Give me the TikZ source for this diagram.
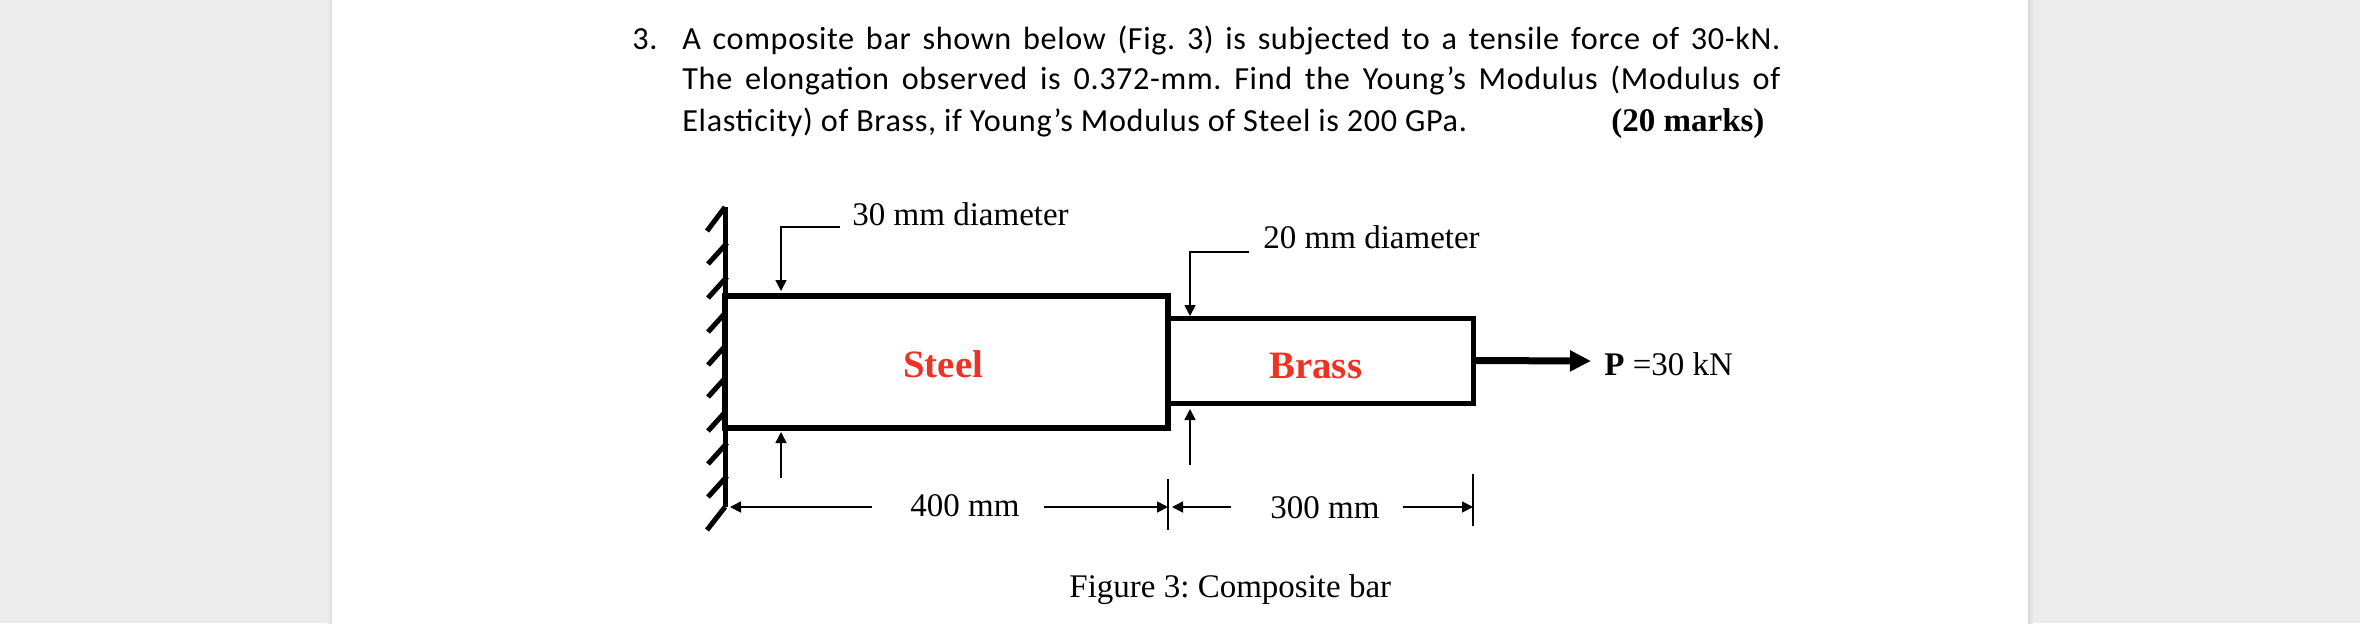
\documentclass[tikz,border=0pt]{standalone}
\usepackage{fontspec}
\setmainfont{Liberation Serif}
\newfontfamily\bodyfont[LetterSpace=2]{Carlito}
\usetikzlibrary{arrows.meta}
\definecolor{pagegray}{RGB}{236,236,236}
\definecolor{labelred}{RGB}{238,50,36}
\frenchspacing
\tikzset{
  barbox/.style={draw, line width=2.7pt, inner sep=0pt, outer sep=0pt},
  hatch/.style={line width=2.5pt},
  leader/.style={line width=0.85pt, -{Stealth[length=5.5pt,width=5.5pt,inset=0pt]}},
  tick/.style={line width=0.85pt},
  para/.style={anchor=base west, inner sep=0pt, font=\bodyfont\fontsize{16.1}{19}\selectfont},
  caption/.style={anchor=base west, inner sep=0pt, font=\fontsize{16.5}{20}\selectfont},
  matname/.style={anchor=base west, inner sep=0pt, text=labelred, font=\bfseries\fontsize{19.4}{23}\selectfont}
}
\begin{document}
\begin{tikzpicture}[x=0.5pt, y=-0.5pt]
  \useasboundingbox (0, 0) rectangle (2360, 623);
  \fill[pagegray] (0, 0) rectangle (2360, 623);
  \shade[left color=pagegray, right color=black!15] (327, 0) rectangle (332, 623);
  \shade[left color=black!15, right color=pagegray] (2028, 0) rectangle (2033, 623);
  \fill[white] (332, 0) rectangle (2028, 623);

  % question text
  \node[para] (num) at (632, 49) {3.};
  \node[para] (lineA) at (682, 49) {\makebox[549pt][s]{A composite bar shown below (Fig. 3) is subjected to a tensile force of 30-kN.}};
  \node[para] (lineB) at (682, 89) {\makebox[549pt][s]{The elongation observed is 0.372-mm. Find the Young’s Modulus (Modulus of}};
  \node[para] (lineC) at (682, 131) {Elasticity) of Brass, if Young’s Modulus of Steel is 200 GPa.};
  \node[caption, font=\bfseries\fontsize{16.5}{20}\selectfont] (marks) at (1611, 131) {(20 marks)};

  % wall
  \coordinate (walltop) at (725, 207);
  \coordinate (wallfoot) at (725, 507);
  \draw[hatch] (walltop) -- (wallfoot);
  \draw[hatch] (walltop) -- (707, 231);
  \foreach \i/\y in {1/243, 2/277, 3/311, 4/344, 5/376, 6/410, 7/443, 8/476}
    \draw[hatch] (727, \y) -- (708, \y + 21);
  \draw[hatch] (wallfoot) -- (707, 530);

  % bars
  \node[barbox, line width=2.5pt, minimum height=42.5pt, minimum width=152.5pt] (brass) at (1320.5, 360.5) {};
  \node[barbox, fill=white, minimum height=66pt, minimum width=221.5pt] (steel) at (946.5, 362) {};
  \node[matname] (steeltxt) at (903, 377) {Steel};
  \node[matname] (brasstxt) at (1269, 378) {Brass};

  % load
  \node[caption] (load) at (1604, 375) {\textbf{P} =30 kN};
  \coordinate (loadend) at (1591, 361);
  \draw[line width=3.5pt, -{Stealth[length=10.5pt,width=10pt,inset=0pt]}] (brass.east) -- (loadend);

  % diameters
  \node[caption] (dia30) at (852, 225) {30 mm diameter};
  \node[caption] (dia20) at (1263, 248) {20 mm diameter};
  \coordinate (tag30) at (840, 227);
  \coordinate (bend30) at (781, 227);
  \coordinate (foot30) at (781, 478);
  \draw[leader, shorten >=2.5pt] (tag30) -- (bend30) -- (bend30 |- steel.north);
  \draw[leader, shorten >=2pt] (foot30) -- (foot30 |- steel.south);
  \coordinate (tag20) at (1249, 252);
  \coordinate (bend20) at (1190, 252);
  \coordinate (foot20) at (1190, 465);
  \draw[leader, shorten >=1pt] (tag20) -- (bend20) -- (bend20 |- brass.north);
  \draw[leader, shorten >=3pt] (foot20) -- (foot20 |- brass.south);

  % lengths
  \node[caption] (len400) at (910, 516) {400 mm};
  \node[caption] (len300) at (1270, 518) {300 mm};
  \coordinate (tickA) at (1168, 507);
  \coordinate (tickB) at (1473, 507);
  \draw[tick] (1168, 479) -- (1168, 530);
  \draw[tick] (1473, 474) -- (1473, 526);
  \draw[leader, shorten >=2.5pt] (872, 507) -- (wallfoot);
  \draw[leader] (1044, 507) -- (tickA);
  \draw[leader, shorten >=2pt] (1231, 507) -- (tickA);
  \draw[leader] (1403, 507) -- (tickB);

  \node[caption] (figcap) at (1069, 597) {Figure 3: Composite bar};
\end{tikzpicture}
\end{document}
